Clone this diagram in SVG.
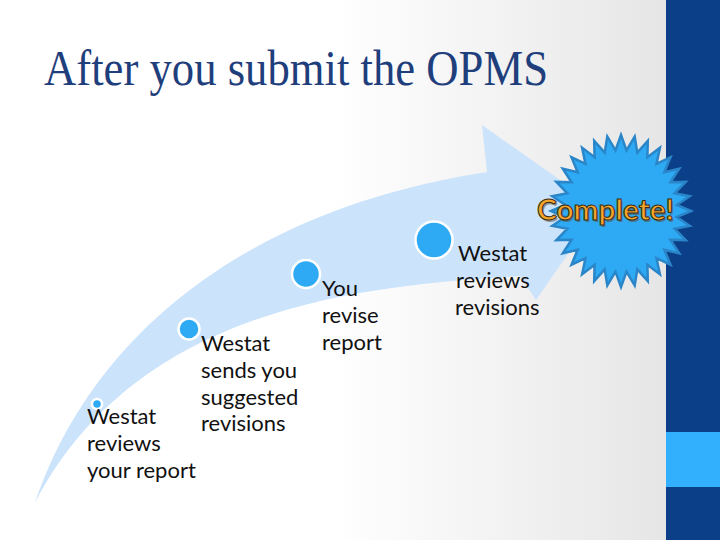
<svg xmlns="http://www.w3.org/2000/svg" width="720" height="540" viewBox="0 0 720 540">
  <defs>
    <linearGradient id="bg" x1="0" y1="0" x2="666" y2="0" gradientUnits="userSpaceOnUse">
      <stop offset="0.5" stop-color="#ffffff"/>
      <stop offset="1" stop-color="#e6e6e6"/>
    </linearGradient>
    <style>
      .lbl { font-family: Lato, "Open Sans", sans-serif; font-size: 22px; fill: #111111; }
      .dot { fill: #2eaaf5; stroke: #ffffff; stroke-width: 2.5; }
    </style>
  </defs>
  <rect x="0" y="0" width="720" height="540" fill="url(#bg)"/>
  <g id="sidebar">
    <rect x="666" y="0" width="54" height="540" fill="#0b3f87"/>
    <rect x="666" y="432" width="54" height="55" fill="#33b0fd"/>
  </g>
  <text id="title" x="44" y="85" font-family="'Liberation Serif', serif" font-size="50" fill="#1f3e7c" textLength="504" lengthAdjust="spacingAndGlyphs">After you submit the OPMS</text>
  <g id="connectors">
    <path id="arrow" d="M35,503 C90,340 240,210 487,172 L482,125 L600,208 L536,300 L520,276 C380,285 140,300 35,503 Z" fill="#cce4fb"/>
  </g>
  <g id="node1"><circle class="dot" cx="97" cy="404" r="5"/>
    <text class="lbl" x="87" y="424">Westat</text>
    <text class="lbl" x="87" y="451">reviews</text>
    <text class="lbl" x="87" y="478">your report</text>
  </g>
  <g id="node2"><circle class="dot" cx="189" cy="329" r="10.5"/>
    <text class="lbl" x="201" y="351">Westat</text>
    <text class="lbl" x="201" y="378">sends you</text>
    <text class="lbl" x="201" y="405">suggested</text>
    <text class="lbl" x="201" y="431">revisions</text>
  </g>
  <g id="node3"><circle class="dot" cx="306" cy="274" r="14"/>
    <text class="lbl" x="322" y="296">You</text>
    <text class="lbl" x="322" y="323">revise</text>
    <text class="lbl" x="322" y="350">report</text>
  </g>
  <g id="node4"><circle class="dot" cx="434" cy="240" r="18.5"/>
    <text class="lbl" x="458" y="261">Westat</text>
    <text class="lbl" x="456" y="288">reviews</text>
    <text class="lbl" x="455" y="315">revisions</text>
  </g>
  <g id="complete">
    <polygon fill="#2eaaf5" stroke="#2a86c8" stroke-width="2.5" stroke-linejoin="miter" points="621,135 626.5,150.3 634.7,136.5 637.3,152.6 647.8,140.8 647.4,157.2 659.9,147.8 656.5,163.9 670.5,157.3 664.3,172.3 679.2,168.8 670.4,182.2 685.7,181.9 674.6,193.3 689.7,196.2 676.7,205 691,211 676.7,217 689.7,225.8 674.6,228.7 685.7,240.1 670.4,239.8 679.2,253.2 664.3,249.7 670.5,264.7 656.5,258.2 659.9,274.2 647.4,264.8 647.8,281.2 637.3,269.4 634.7,285.5 626.5,271.7 621,287 615.5,271.7 607.3,285.5 604.7,269.4 594.2,281.2 594.6,264.8 582.1,274.2 585.5,258.2 571.5,264.7 577.7,249.7 562.8,253.2 571.6,239.8 556.3,240.1 567.4,228.7 552.3,225.8 565.3,217 551,211 565.3,205 552.3,196.2 567.4,193.3 556.3,181.9 571.6,182.2 562.8,168.8 577.7,172.3 571.5,157.3 585.5,163.9 582.1,147.8 594.6,157.2 594.2,140.8 604.7,152.6 607.3,136.5 615.5,150.3"/>
    <text x="538.5" y="221.5" font-family="Lato, 'Liberation Sans', sans-serif" font-weight="bold" font-size="28" fill="#5a4a30" opacity="0.5" textLength="137" lengthAdjust="spacingAndGlyphs">Complete!</text>
    <text x="537" y="220" font-family="Lato, 'Liberation Sans', sans-serif" font-weight="bold" font-size="28" fill="#f7a52c" stroke="#3b2c12" stroke-width="1" textLength="137" lengthAdjust="spacingAndGlyphs">Complete!</text>
  </g>
</svg>
